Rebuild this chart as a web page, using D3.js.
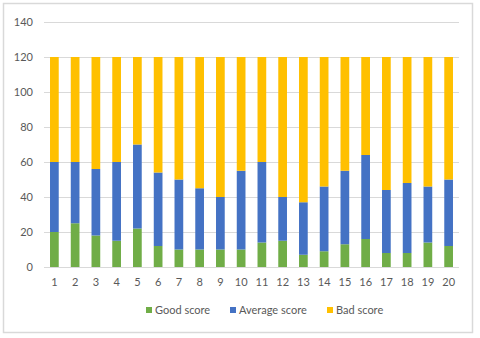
<!DOCTYPE html>
<html>
<head>
<meta charset="utf-8">
<script src="https://cdn.jsdelivr.net/npm/d3@7"></script>
<style>
  body { margin: 0; background: #fff; }
  text { font-family: Lato, "Open Sans", sans-serif; fill: #595959; }
</style>
</head>
<body>
<div id="chart"></div>
<script>
// Data
const categories = d3.range(1, 21).map(String);
const goodScore = [20, 25, 18, 15, 22, 12, 10, 10, 10, 10, 14, 15, 7, 9, 13, 16, 8, 8, 14, 12];
const averageScore = [40, 35, 38, 45, 48, 42, 40, 35, 30, 45, 46, 25, 30, 37, 42, 48, 36, 40, 32, 38];
const badScore = [60, 60, 64, 60, 50, 66, 70, 75, 80, 65, 60, 80, 83, 74, 65, 56, 76, 72, 74, 70];
const seriesNames = ["Good score", "Average score", "Bad score"];
const colors = ["#70AD47", "#4472C4", "#FFC000"];
const yTicks = [0, 20, 40, 60, 80, 100, 120, 140];

const W = 480, H = 338;
const margin = { top: 22, right: 21, bottom: 71, left: 44 };
const width = W - margin.left - margin.right;
const height = H - margin.top - margin.bottom;

const rows = categories.map((c, i) => ({
    cat: c,
    "Good score": goodScore[i],
    "Average score": averageScore[i],
    "Bad score": badScore[i]
}));
const stacked = d3.stack().keys(seriesNames)(rows);

const svg = d3.select("#chart")
    .append("svg")
    .attr("width", W)
    .attr("height", H);

// Outer chart border
svg.append("rect")
    .attr("x", 3.5).attr("y", 3.5)
    .attr("width", 469).attr("height", 329)
    .attr("fill", "#fff")
    .attr("stroke", "#d9d9d9")
    .attr("stroke-width", 1.5);

const g = svg.append("g")
    .attr("transform", `translate(${margin.left}, ${margin.top})`);

const xScale = d3.scaleBand()
    .domain(categories)
    .range([0, width])
    .paddingInner(0.58)
    .paddingOuter(0.29);

const yScale = d3.scaleLinear()
    .domain([0, 140])
    .range([height, 0]);

// Gridlines
g.append("g")
    .selectAll("line")
    .data(yTicks)
    .enter()
    .append("line")
    .attr("x1", 0)
    .attr("x2", width)
    .attr("y1", d => Math.round(yScale(d)) + 0.5)
    .attr("y2", d => Math.round(yScale(d)) + 0.5)
    .attr("stroke", "#d9d9d9")
    .attr("stroke-width", 1);

// Bars
g.selectAll(".series")
    .data(stacked)
    .enter()
    .append("g")
    .attr("fill", (d, i) => colors[i])
    .selectAll("rect")
    .data(d => d)
    .enter()
    .append("rect")
    .attr("x", d => xScale(d.data.cat))
    .attr("y", d => yScale(d[1]))
    .attr("width", xScale.bandwidth())
    .attr("height", d => yScale(d[0]) - yScale(d[1]));

// Y axis labels
const yAxis = d3.axisLeft(yScale).tickValues(yTicks).tickSize(0).tickPadding(11);
g.append("g")
    .call(yAxis)
    .call(a => a.select(".domain").remove())
    .selectAll("text")
    .attr("font-size", 11)
    .attr("font-family", "Lato, 'Open Sans', sans-serif")
    .attr("fill", "#595959");

// X axis labels
const xAxis = d3.axisBottom(xScale).tickSize(0).tickPadding(11);
g.append("g")
    .attr("transform", `translate(0, ${height})`)
    .call(xAxis)
    .call(a => a.select(".domain").remove())
    .selectAll("text")
    .attr("font-size", 11)
    .attr("font-family", "Lato, 'Open Sans', sans-serif")
    .attr("fill", "#595959");

// Legend
const legendX = [146, 230, 327];
const legend = svg.append("g");
seriesNames.forEach((name, i) => {
    legend.append("rect")
        .attr("x", legendX[i]).attr("y", 307)
        .attr("width", 6).attr("height", 6)
        .attr("fill", colors[i]);
    legend.append("text")
        .attr("x", legendX[i] + 9).attr("y", 310)
        .attr("dy", "0.35em")
        .attr("font-size", 11)
        .text(name);
});
</script>
</body>
</html>
